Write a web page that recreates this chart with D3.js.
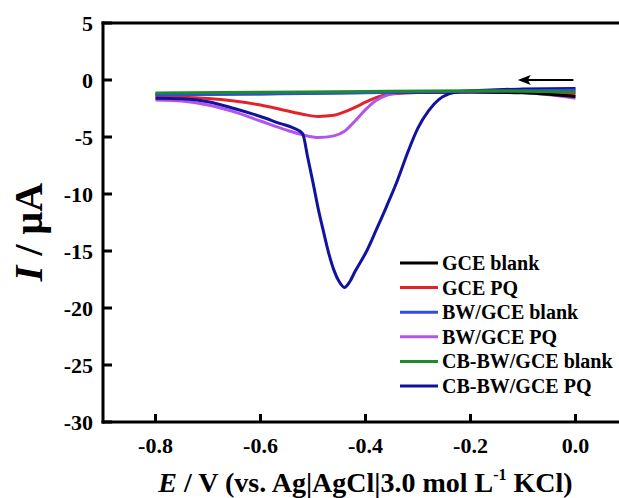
<!DOCTYPE html>
<html>
<head>
<meta charset="utf-8">
<script src="https://cdn.jsdelivr.net/npm/d3@7"></script>
<style>
  html, body { margin: 0; padding: 0; background: #fff; }
  svg { display: block; }
</style>
</head>
<body>
<svg id="chart" width="619" height="498" viewBox="0 0 619 498"></svg>
<script>
// ---------- data ----------
const seriesNames = ["GCE blank", "GCE PQ", "BW/GCE blank", "BW/GCE PQ", "CB-BW/GCE blank", "CB-BW/GCE PQ"];
const seriesColors = ["#000000", "#e3232b", "#2d4fe0", "#b255ec", "#1e8c2e", "#1212a0"];

const gceBlankE = [-0.8, -0.6, -0.4, -0.2, -0.1, -0.05, 0.0];
const gceBlankI = [-1.25, -1.2, -1.1, -1.05, -1.12, -1.25, -1.45];

const gcePqE = [-0.8, -0.75, -0.7, -0.65, -0.6, -0.55, -0.52, -0.49, -0.46, -0.44, -0.42, -0.4, -0.38, -0.36, -0.34, -0.3, -0.2, -0.1, 0.0];
const gcePqI = [-1.5, -1.52, -1.62, -1.85, -2.2, -2.7, -3.0, -3.2, -3.1, -2.8, -2.4, -1.95, -1.55, -1.3, -1.18, -1.1, -1.05, -1.1, -1.2];

const bwBlankE = [-0.8, -0.6, -0.4, -0.2, -0.1, 0.0];
const bwBlankI = [-1.3, -1.22, -1.12, -1.0, -0.95, -0.9];

const bwPqE = [-0.8, -0.75, -0.7, -0.65, -0.6, -0.55, -0.52, -0.49, -0.46, -0.44, -0.42, -0.4, -0.38, -0.36, -0.34, -0.3, -0.2, -0.1, -0.05, 0.0];
const bwPqI = [-1.75, -1.85, -2.2, -2.8, -3.6, -4.4, -4.8, -5.05, -4.9, -4.5, -3.6, -2.6, -1.8, -1.35, -1.15, -1.05, -1.0, -1.1, -1.3, -1.6];

const cbBlankE = [-0.8, -0.6, -0.4, -0.2, -0.1, 0.0];
const cbBlankI = [-1.15, -1.08, -1.0, -0.95, -0.98, -1.05];

const cbPqE = [-0.8, -0.75, -0.7, -0.65, -0.6, -0.56, -0.54, -0.52, -0.51, -0.5, -0.49, -0.48, -0.47, -0.46, -0.45, -0.44, -0.43, -0.42, -0.41, -0.4, -0.38, -0.36, -0.34, -0.32, -0.3, -0.28, -0.26, -0.24, -0.22, -0.2, -0.15, -0.1, 0.0];
const cbPqI = [-1.6, -1.65, -1.9, -2.5, -3.2, -3.85, -4.15, -4.7, -6.8, -9.0, -11.3, -13.3, -15.2, -16.7, -17.7, -18.2, -17.7, -16.8, -16.0, -15.2, -13.2, -11.1, -8.9, -6.4, -4.2, -2.7, -1.7, -1.2, -1.0, -0.95, -0.85, -0.8, -0.75];

const xTicks = [-0.8, -0.6, -0.4, -0.2, 0.0];
const xTickLabels = ["-0.8", "-0.6", "-0.4", "-0.2", "0.0"];
const yTicks = [5, 0, -5, -10, -15, -20, -25, -30];
const yTickLabels = ["5", "0", "-5", "-10", "-15", "-20", "-25", "-30"];

const arrowE = [-0.004, -0.11];
const arrowI = 0;

const seriesE = [gceBlankE, gcePqE, bwBlankE, bwPqE, cbBlankE, cbPqE];
const seriesI = [gceBlankI, gcePqI, bwBlankI, bwPqI, cbBlankI, cbPqI];
const drawOrder = [1, 3, 5, 0, 2, 4];

// ---------- layout ----------
const FONT = "'Liberation Serif', 'Times New Roman', serif";
const svg = d3.select("#chart");
const mLeft = 103, mRight = 619, mTop = 23, mBottom = 422;
const pxPerVolt = 525;

const xSc = d3.scaleLinear().domain([-0.9, -0.9 + (mRight - mLeft) / pxPerVolt]).range([mLeft, mRight]);
const ySc = d3.scaleLinear().domain([-30, 5]).range([mBottom, mTop]);

// curves
const lineGen = d3.line().x(d => xSc(d[0])).y(d => ySc(d[1])).curve(d3.curveMonotoneX);
const gc = svg.append("g");
drawOrder.forEach(k => {
  const pts = seriesE[k].map((e, i) => [e, seriesI[k][i]]);
  gc.append("path")
    .attr("d", lineGen(pts))
    .attr("fill", "none")
    .attr("stroke", seriesColors[k])
    .attr("stroke-width", 3)
    .attr("stroke-linejoin", "round");
});

// frame and ticks, placed with the scales
const gf = svg.append("g");
const frameLine = (x1, y1, x2, y2, w) => gf.append("line")
  .attr("x1", x1).attr("y1", y1).attr("x2", x2).attr("y2", y2)
  .attr("stroke", "#000").attr("stroke-width", w).attr("stroke-linecap", "square");
frameLine(xSc.range()[0], ySc.range()[0], xSc.range()[1], ySc.range()[0], 3);   // bottom
frameLine(xSc.range()[0], ySc.range()[0], xSc.range()[0], ySc.range()[1], 3);   // left
frameLine(xSc.range()[0], ySc.range()[1], xSc.range()[1], ySc.range()[1], 3);   // top

xTicks.forEach((t, i) => {
  const px = xSc(t);
  gf.append("line").attr("x1", px).attr("x2", px)
    .attr("y1", mBottom).attr("y2", mBottom - 8)
    .attr("stroke", "#000").attr("stroke-width", 3);
  gf.append("text").attr("x", px).attr("y", mBottom + 31)
    .attr("text-anchor", "middle")
    .attr("font-family", FONT).attr("font-weight", "bold").attr("font-size", 22)
    .attr("fill", "#000").text(xTickLabels[i]);
});
yTicks.forEach((t, i) => {
  const py = ySc(t);
  gf.append("line").attr("x1", mLeft).attr("x2", mLeft + 9)
    .attr("y1", py).attr("y2", py)
    .attr("stroke", "#000").attr("stroke-width", 3);
  gf.append("text").attr("x", mLeft - 10).attr("y", py + 7.5)
    .attr("text-anchor", "end")
    .attr("font-family", FONT).attr("font-weight", "bold").attr("font-size", 22)
    .attr("fill", "#000").text(yTickLabels[i]);
});

// arrow
const ax0 = xSc(arrowE[0]), ax1 = xSc(arrowE[1]), ay = ySc(arrowI);
svg.append("line")
  .attr("x1", ax0).attr("y1", ay).attr("x2", ax1 + 8).attr("y2", ay)
  .attr("stroke", "#000").attr("stroke-width", 2);
svg.append("path")
  .attr("d", `M${ax1},${ay} L${ax1 + 13},${ay - 5} L${ax1 + 10},${ay} L${ax1 + 13},${ay + 5} Z`)
  .attr("fill", "#000");

// axis titles
const yt = svg.append("text")
  .attr("transform", `translate(42,232) rotate(-90)`)
  .attr("text-anchor", "middle")
  .attr("font-family", FONT).attr("font-weight", "bold").attr("font-size", 40).attr("fill", "#000");
yt.append("tspan").attr("font-style", "italic").text("I");
yt.append("tspan").text(" / μA");

const xt = svg.append("text")
  .attr("x", (mLeft + 628) / 2).attr("y", 492)
  .attr("text-anchor", "middle")
  .attr("font-family", FONT).attr("font-weight", "bold").attr("font-size", 28).attr("fill", "#000");
xt.append("tspan").attr("font-style", "italic").text("E");
xt.append("tspan").text(" / V (vs. Ag|AgCl|3.0 mol L");
xt.append("tspan").attr("font-size", 16).attr("dy", -12).text("-1");
xt.append("tspan").attr("dy", 12).text(" KCl)");

// legend
const lg = svg.append("g");
seriesNames.forEach((name, i) => {
  const cy = 263 + i * 24.6;
  lg.append("line").attr("x1", 400).attr("x2", 438).attr("y1", cy).attr("y2", cy)
    .attr("stroke", seriesColors[i]).attr("stroke-width", 3);
  lg.append("text").attr("x", 442).attr("y", cy + 7)
    .attr("font-family", FONT).attr("font-weight", "bold").attr("font-size", 20)
    .attr("fill", "#000").text(name);
});
</script>
</body>
</html>
